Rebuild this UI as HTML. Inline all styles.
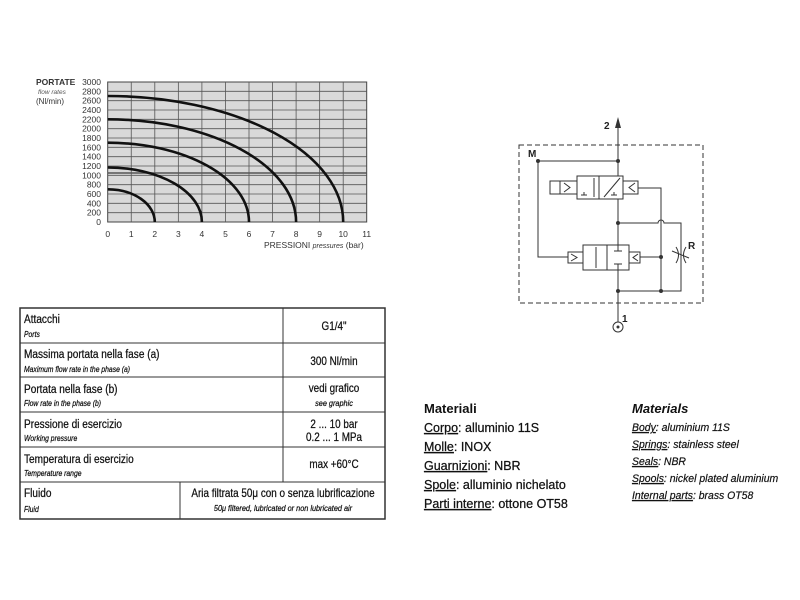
<!DOCTYPE html>
<html><head><meta charset="utf-8"><style>
html,body{margin:0;padding:0;background:#fff;width:800px;height:600px;overflow:hidden}
svg{display:block}
.n{font-family:"Liberation Sans Narrow","Liberation Sans",sans-serif}
</style></head><body>
<svg width="800" height="600" viewBox="0 0 800 600" xmlns="http://www.w3.org/2000/svg">
<!-- chart -->
<rect x="107.7" y="82" width="259" height="140" fill="#d9d9d9" stroke="#444" stroke-width="1"/>
<g stroke="#555" stroke-width="0.8">
<line x1="131.25" y1="82" x2="131.25" y2="222"/><line x1="154.8" y1="82" x2="154.8" y2="222"/>
<line x1="178.35" y1="82" x2="178.35" y2="222"/><line x1="201.9" y1="82" x2="201.9" y2="222"/>
<line x1="225.45" y1="82" x2="225.45" y2="222"/><line x1="249" y1="82" x2="249" y2="222"/>
<line x1="272.55" y1="82" x2="272.55" y2="222"/><line x1="296.1" y1="82" x2="296.1" y2="222"/>
<line x1="319.65" y1="82" x2="319.65" y2="222"/><line x1="343.2" y1="82" x2="343.2" y2="222"/>
<line x1="107.7" y1="91.3" x2="366.7" y2="91.3"/><line x1="107.7" y1="100.7" x2="366.7" y2="100.7"/>
<line x1="107.7" y1="110" x2="366.7" y2="110"/><line x1="107.7" y1="119.3" x2="366.7" y2="119.3"/>
<line x1="107.7" y1="128.7" x2="366.7" y2="128.7"/><line x1="107.7" y1="138" x2="366.7" y2="138"/>
<line x1="107.7" y1="147.3" x2="366.7" y2="147.3"/><line x1="107.7" y1="156.7" x2="366.7" y2="156.7"/>
<line x1="107.7" y1="166" x2="366.7" y2="166"/><line x1="107.7" y1="175.3" x2="366.7" y2="175.3"/>
<line x1="107.7" y1="184.7" x2="366.7" y2="184.7"/><line x1="107.7" y1="194" x2="366.7" y2="194"/>
<line x1="107.7" y1="203.3" x2="366.7" y2="203.3"/><line x1="107.7" y1="212.7" x2="366.7" y2="212.7"/>
<line x1="107.7" y1="173" x2="366.7" y2="173" stroke-width="1.5"/>
</g>
<g fill="none" stroke="#111" stroke-width="2.6">
<path d="M107.7 189.3 A47.1 32.7 0 0 1 154.8 222"/>
<path d="M107.7 167.4 A94.2 54.6 0 0 1 201.9 222"/>
<path d="M107.7 142.7 A141.3 79.3 0 0 1 249 222"/>
<path d="M107.7 119.3 A188.4 102.7 0 0 1 296.1 222"/>
<path d="M107.7 96 A235.5 126 0 0 1 343.2 222"/>
</g>
<g font-family="Liberation Sans,sans-serif" font-size="8.5" fill="#333" text-anchor="end">
<text x="101" y="85">3000</text><text x="101" y="94.3">2800</text><text x="101" y="103.7">2600</text>
<text x="101" y="113">2400</text><text x="101" y="122.3">2200</text><text x="101" y="131.7">2000</text>
<text x="101" y="141">1800</text><text x="101" y="150.3">1600</text><text x="101" y="159.7">1400</text>
<text x="101" y="169">1200</text><text x="101" y="178.3">1000</text><text x="101" y="187.7">800</text>
<text x="101" y="197">600</text><text x="101" y="206.3">400</text><text x="101" y="215.7">200</text>
<text x="101" y="225">0</text>
</g>
<g font-family="Liberation Sans,sans-serif" font-size="8.5" fill="#333" text-anchor="middle">
<text x="107.7" y="237">0</text><text x="131.25" y="237">1</text><text x="154.8" y="237">2</text>
<text x="178.35" y="237">3</text><text x="201.9" y="237">4</text><text x="225.45" y="237">5</text>
<text x="249" y="237">6</text><text x="272.55" y="237">7</text><text x="296.1" y="237">8</text>
<text x="319.65" y="237">9</text><text x="343.2" y="237">10</text><text x="366.7" y="237">11</text>
</g>
<text x="36" y="85" font-family="Liberation Sans,sans-serif" font-size="8.5" font-weight="bold" fill="#333">PORTATE</text>
<text x="38" y="94" font-family="Liberation Sans,sans-serif" font-size="6.5" font-style="italic" fill="#555">flow rates</text>
<text x="36" y="104" font-family="Liberation Sans,sans-serif" font-size="8" fill="#333">(Nl/min)</text>
<text x="264" y="248" font-family="Liberation Sans,sans-serif" font-size="8.5" fill="#333">PRESSIONI <tspan font-style="italic" font-size="7">pressures</tspan> (bar)</text>

<!-- table -->
<g stroke="#333" fill="none">
<rect x="20" y="308" width="365" height="211" stroke-width="1.5"/>
<line x1="20" y1="343" x2="385" y2="343"/><line x1="20" y1="377" x2="385" y2="377"/>
<line x1="20" y1="412" x2="385" y2="412"/><line x1="20" y1="447" x2="385" y2="447"/>
<line x1="20" y1="482" x2="385" y2="482"/>
<line x1="283" y1="308" x2="283" y2="482"/><line x1="180" y1="482" x2="180" y2="519"/>
</g>
<g class="n" fill="#111" stroke="#111" stroke-width="0.25">
<g font-size="12" transform="translate(24,0) scale(0.84,1)"><text x="0" y="323">Attacchi</text><text x="0" y="358">Massima portata nella fase (a)</text>
<text x="0" y="393">Portata nella fase (b)</text><text x="0" y="428">Pressione di esercizio</text>
<text x="0" y="463">Temperatura di esercizio</text><text x="0" y="497">Fluido</text></g>
<g font-size="8.5" font-style="italic" transform="translate(24,0) scale(0.8,1)"><text x="0" y="337">Ports</text><text x="0" y="372">Maximum flow rate in the phase (a)</text>
<text x="0" y="406">Flow rate in the phase (b)</text><text x="0" y="441">Working pressure</text>
<text x="0" y="476">Temperature range</text><text x="0" y="512">Fluid</text></g>
<g font-size="11.5" text-anchor="middle" transform="translate(334,0) scale(0.86,1)"><text x="0" y="330">G1/4"</text><text x="0" y="365">300 Nl/min</text>
<text x="0" y="392">vedi grafico</text><text x="0" y="428">2 ... 10 bar</text><text x="0" y="441">0.2 ... 1 MPa</text>
<text x="0" y="468">max +60°C</text></g>
<g font-size="11.5" text-anchor="middle" transform="translate(283,0) scale(0.86,1)"><text x="0" y="497">Aria filtrata 50μ con o senza lubrificazione</text></g>
<g font-size="8.5" font-style="italic" text-anchor="middle" transform="translate(334,0) scale(0.86,1)"><text x="0" y="406">see graphic</text></g>
<g font-size="8.5" font-style="italic" text-anchor="middle" transform="translate(283,0) scale(0.86,1)">
<text x="0" y="511">50μ filtered, lubricated or non lubricated air</text></g>
</g>

<!-- materials -->
<g class="n" fill="#111">
<text x="424" y="413" font-size="13" font-weight="bold">Materiali</text>
<g font-size="12.5" stroke="#111" stroke-width="0.25">
<text x="424" y="432"><tspan text-decoration="underline">Corpo</tspan>: alluminio 11S</text>
<text x="424" y="451"><tspan text-decoration="underline">Molle</tspan>: INOX</text>
<text x="424" y="470"><tspan text-decoration="underline">Guarnizioni</tspan>: NBR</text>
<text x="424" y="489"><tspan text-decoration="underline">Spole</tspan>: alluminio nichelato</text>
<text x="424" y="508"><tspan text-decoration="underline">Parti interne</tspan>: ottone OT58</text>
</g>
<text x="632" y="413" font-size="13" font-weight="bold" font-style="italic">Materials</text>
<g font-size="11" font-style="italic" stroke="#111" stroke-width="0.2" transform="translate(632,0) scale(0.95,1)">
<text x="0" y="431"><tspan text-decoration="underline">Body</tspan>: aluminium 11S</text>
<text x="0" y="448"><tspan text-decoration="underline">Springs</tspan>: stainless steel</text>
<text x="0" y="465"><tspan text-decoration="underline">Seals</tspan>: NBR</text>
<text x="0" y="482"><tspan text-decoration="underline">Spools</tspan>: nickel plated aluminium</text>
<text x="0" y="499"><tspan text-decoration="underline">Internal parts</tspan>: brass OT58</text>
</g>
</g>

<!-- schematic -->
<g stroke="#333" fill="none" stroke-width="1">
<rect x="519" y="145" width="184" height="158" stroke-dasharray="5,3"/>
<line x1="618" y1="125" x2="618" y2="176"/>
<line x1="618" y1="199" x2="618" y2="245"/>
<line x1="618" y1="270" x2="618" y2="322"/>
<polyline points="538,161 618,161"/>
<polyline points="538,161 538,257 568,257"/>
<rect x="577" y="176" width="46" height="23"/>
<line x1="599" y1="176" x2="599" y2="199"/>
<rect x="550" y="181" width="27" height="13"/>
<line x1="560" y1="181" x2="560" y2="194"/>
<path d="M564 183 L570 187.5 L564 192"/>
<rect x="623" y="181" width="15" height="13"/>
<path d="M635 183 L629 187.5 L635 192"/>
<polyline points="638,188 661,188 661,291"/>
<line x1="594" y1="178" x2="594" y2="197"/>
<line x1="620" y1="178" x2="604" y2="197"/>
<path d="M581 195 h6 M584 195 v-3 M611 195 h6 M614 195 v-3"/>
<path d="M618 223 H658 A3 3 0 0 1 664 223 H681 V291 H618"/>
<rect x="583" y="245" width="46" height="25"/>
<line x1="607" y1="245" x2="607" y2="270"/>
<line x1="596" y1="247" x2="596" y2="268"/>
<path d="M614 251 h8 M618 251 v-6 M614 264 h8 M618 264 v6"/>
<rect x="568" y="252" width="15" height="11"/>
<path d="M571 254 L577 257.5 L571 261"/>
<rect x="629" y="252" width="11" height="11"/>
<path d="M638 254 L633 257.5 L638 261"/>
<line x1="640" y1="257" x2="661" y2="257"/>
<path d="M676 247 Q681 255 676 263 M686 247 Q681 255 686 263"/>
<line x1="672" y1="251" x2="689" y2="258"/>
<circle cx="618" cy="327" r="5"/>
</g>
<path d="M618 117 L615 128 L621 128 Z" fill="#333"/>
<g fill="#333">
<circle cx="538" cy="161" r="2"/><circle cx="618" cy="161" r="2"/><circle cx="618" cy="223" r="2"/>
<circle cx="661" cy="257" r="2"/><circle cx="618" cy="291" r="2"/><circle cx="661" cy="291" r="2"/>
<circle cx="618" cy="327" r="1.5"/>
</g>
<g font-family="Liberation Sans,sans-serif" font-weight="bold" font-size="10" fill="#222">
<text x="604" y="129">2</text><text x="528" y="157">M</text><text x="688" y="249">R</text><text x="622" y="322">1</text>
</g>
</svg>
</body></html>
